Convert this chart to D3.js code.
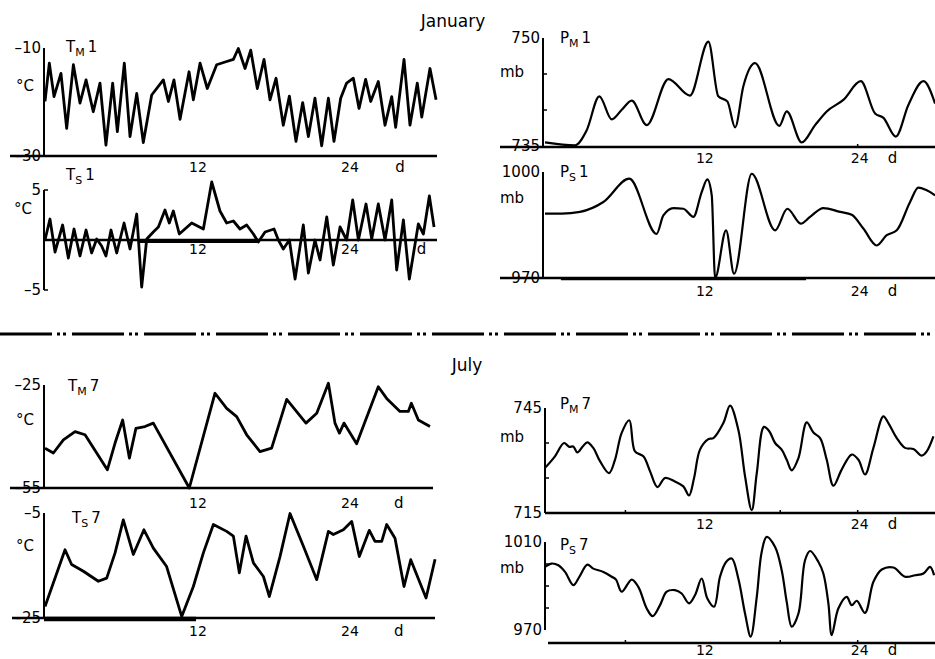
<!DOCTYPE html>
<html>
<head>
<meta charset="utf-8">
<script src="https://cdn.jsdelivr.net/npm/d3@7"></script>
<style>
    body { margin: 0; background: #fff; }
    svg { display: block; font-family: "DejaVu Sans", sans-serif; }
</style>
</head>
<body>
<div id="chart"></div>
<script>
// [day, value] pairs
const tempMeanJan = [[0.08,-19.9],[0.42,-12.8],[0.79,-19.0],[1.34,-14.7],[1.79,-24.9],[2.32,-13.1],[2.84,-20.2],[3.32,-15.9],[3.89,-21.8],[4.42,-16.5],[4.89,-28.0],[5.42,-16.5],[5.79,-25.5],[6.34,-12.8],[6.79,-26.4],[7.32,-18.4],[7.84,-27.5],[8.5,-18.7],[9.42,-15.9],[9.82,-19.9],[10.26,-15.9],[10.74,-23.2],[11.45,-14.4],[11.79,-19.6],[12.32,-12.8],[12.89,-17.5],[13.63,-13.1],[14.42,-12.5],[14.95,-12.1],[15.34,-10.1],[15.87,-13.8],[16.32,-10.4],[16.84,-17.5],[17.37,-12.1],[17.84,-19.6],[18.32,-15.6],[18.89,-24.3],[19.37,-18.9],[19.89,-27.3],[20.42,-20.1],[20.87,-26.4],[21.39,-19.3],[21.92,-28.1],[22.45,-19.3],[22.89,-27.3],[23.42,-19.3],[23.89,-16.5],[24.42,-15.6],[24.87,-21.2],[25.39,-15.8],[25.79,-19.9],[26.39,-16.2],[26.92,-24.3],[27.45,-19.0],[27.76,-24.7],[28.42,-12.1],[28.89,-24.3],[29.47,-16.5],[29.82,-22.8],[30.47,-13.8],[30.95,-19.6]];

const tempSurfJan = [[0.08,0],[0.47,2.1],[0.87,-1.2],[1.47,1.5],[1.92,-1.8],[2.37,1.1],[2.84,-1.6],[3.32,1.0],[3.76,-1.3],[4.16,0.1],[4.55,-0.6],[4.89,-1.6],[5.29,1.0],[5.74,-1.3],[6.32,1.7],[6.79,-0.9],[7.32,2.6],[7.71,-4.7],[8.11,0.1],[8.63,0.8],[9.03,1.3],[9.55,3.0],[9.89,1.7],[10.21,2.9],[10.68,0.6],[11.66,1.7],[12.58,1.1],[13.24,5.8],[13.89,2.9],[14.42,1.7],[14.95,1.9],[15.47,1.1],[16.0,1.5],[16.53,0.6],[16.92,-0.2],[17.45,0.8],[18.16,1.1],[18.5,0.0],[18.89,-0.9],[19.37,0.0],[19.82,-3.9],[20.47,1.5],[20.87,-3.3],[21.39,0.0],[21.79,-2.0],[22.32,2.3],[22.84,-2.5],[23.37,1.3],[23.89,0.0],[24.37,4.0],[24.82,0.0],[25.42,3.6],[25.87,0.1],[26.39,3.6],[26.92,0.0],[27.45,4.0],[27.84,-3.0],[28.37,2.0],[28.84,-3.9],[29.55,1.6],[29.95,0.6],[30.42,4.4],[30.79,1.3]];

const pressMeanJan = [[-0.23,735.5],[2.09,735.1],[3.0,737.2],[3.98,741.9],[4.94,738.7],[5.7,740.0],[6.49,741.3],[7.65,737.9],[9.33,744.3],[11.0,742.0],[12.43,749.5],[13.2,741.9],[13.9,741.2],[14.5,737.6],[15.14,743.3],[16.05,746.5],[17.93,737.8],[18.5,739.8],[19.66,735.5],[20.7,737.9],[21.6,739.8],[22.89,741.4],[24.24,744.0],[25.35,739.5],[26.0,738.9],[26.95,736.3],[27.93,740.7],[29.1,744.0],[30.0,740.9]];

const pressSurfJan = [[-0.23,988.2],[1.06,988.2],[2.48,988.7],[4.29,991.5],[6.3,998.1],[8.42,982.5],[8.94,987.7],[9.72,989.8],[10.49,989.6],[11.27,987.3],[11.91,994.3],[12.35,997.9],[12.69,993.4],[12.95,970.0],[13.8,983.5],[14.42,971.2],[15.79,999.5],[17.6,983.5],[18.55,989.6],[19.59,985.4],[20.31,987.3],[21.34,989.8],[22.64,988.7],[23.54,987.9],[24.44,984.0],[25.48,979.2],[26.25,982.1],[27.03,983.5],[28.06,991.5],[28.7,995.6],[29.35,994.8],[30.0,993.4]];

const tempMeanJul = [[0.08,-43.4],[0.74,-44.8],[1.53,-41.0],[2.45,-38.6],[3.24,-39.5],[4.16,-44.8],[5.0,-49.7],[5.61,-41.9],[6.21,-35.2],[6.74,-46.3],[7.26,-37.6],[7.97,-37.1],[8.63,-36.1],[11.47,-55.0],[13.5,-27.4],[14.42,-31.8],[15.21,-34.2],[16.0,-39.5],[17.05,-44.4],[17.97,-43.4],[19.16,-29.2],[20.68,-36.1],[21.53,-33.2],[22.45,-24.5],[22.97,-36.1],[23.32,-39.0],[23.68,-36.1],[24.1,-38.6],[24.68,-42.1],[26.39,-25.5],[27.05,-28.9],[28.1,-32.7],[28.76,-32.7],[29.0,-30.3],[29.55,-35.2],[30.47,-37.1]];

const tempSurfJul = [[0.08,-22.8],[1.66,-12.0],[2.18,-14.8],[3.11,-16.1],[4.29,-18.0],[4.95,-17.4],[5.61,-12.6],[6.26,-6.3],[7.05,-12.9],[7.89,-8.2],[8.63,-11.7],[9.68,-15.2],[10.87,-24.7],[11.79,-19.0],[12.58,-12.6],[13.37,-7.2],[14.42,-8.5],[14.95,-9.4],[15.42,-16.4],[15.95,-9.4],[16.53,-14.5],[17.32,-17.1],[17.79,-20.9],[18.63,-13.3],[19.42,-5.1],[20.47,-11.3],[21.53,-17.7],[22.45,-8.5],[22.84,-9.1],[23.63,-8.2],[24.29,-6.6],[24.89,-13.3],[25.68,-8.3],[26.13,-10.4],[26.66,-10.4],[27.05,-7.2],[27.71,-9.8],[28.42,-19.0],[28.95,-13.9],[30.16,-21.2],[30.87,-13.8]];

const pressMeanJul = [[-0.23,727.9],[0.54,731.2],[1.24,735.0],[1.65,733.9],[1.96,734.0],[2.27,732.3],[2.69,734.0],[3.05,735.2],[3.51,733.6],[4.03,729.8],[4.73,726.4],[5.19,730.2],[5.71,737.9],[6.3,741.5],[6.74,732.6],[7.39,731.2],[7.91,726.9],[8.48,722.4],[9.07,725.0],[9.84,724.0],[10.49,722.6],[10.93,720.0],[11.32,725.0],[11.78,733.1],[12.43,736.1],[12.82,736.4],[13.59,740.7],[14.11,745.7],[14.75,738.8],[15.27,725.5],[15.79,715.8],[16.18,726.4],[16.74,739.6],[17.16,738.3],[17.6,735.0],[18.11,733.1],[18.5,730.2],[18.89,727.2],[19.41,730.7],[20.05,740.9],[20.57,738.0],[21.09,736.4],[21.6,730.2],[22.12,722.8],[22.76,727.4],[23.54,731.7],[24.06,730.2],[24.57,726.0],[25.22,733.6],[25.99,742.6],[26.38,740.7],[27.03,736.4],[27.67,733.6],[28.32,733.3],[28.97,731.4],[29.35,732.6],[29.87,736.9]];

const pressSurfJul = [[-0.23,998.7],[0.28,1000.2],[0.8,999.4],[1.32,996.4],[1.96,990.4],[2.43,994.2],[3.05,999.7],[3.51,997.9],[4.29,996.4],[4.94,994.2],[5.27,992.9],[5.71,987.4],[6.49,992.9],[7.0,989.6],[7.65,979.8],[8.11,976.3],[8.68,981.3],[9.2,987.4],[9.84,988.1],[10.36,986.6],[10.93,982.1],[11.4,985.9],[11.91,993.4],[12.35,984.3],[12.87,980.6],[13.33,994.2],[13.8,1000.9],[14.24,1002.5],[14.75,993.4],[15.27,977.5],[15.71,967.0],[16.18,985.1],[16.56,1005.5],[16.95,1012.3],[17.6,1007.7],[18.11,997.2],[18.5,982.8],[18.89,971.5],[19.41,977.5],[19.92,1001.7],[20.31,1005.9],[20.96,1000.9],[21.34,995.7],[21.73,982.1],[21.99,967.7],[22.5,979.8],[23.15,985.1],[23.54,981.3],[23.93,983.3],[24.57,977.8],[25.22,991.9],[25.87,997.5],[26.77,998.4],[27.67,994.2],[28.45,994.9],[29.1,995.7],[29.61,998.7],[29.92,994.9]];

const dayTicks = [12, 24];
const monthTitles = ["January", "July"];

const width = 935, height = 659;
const svg = d3.select("#chart").append("svg")
    .attr("width", width)
    .attr("height", height);

let leftX = [44, 436.7];
let rightX = [548, 948];

function drawPanel(p) {
    let g = svg.append("g");
    let x = d3.scaleLinear().domain([0, 31]).range(p.xRange);
    let y = d3.scaleLinear().domain(p.yDomain).range(p.yRange);

    // y axis bracket
    g.append("line")
        .attr("x1", p.axisX).attr("x2", p.axisX)
        .attr("y1", y(p.yDomain[1])).attr("y2", y(p.yDomain[0]))
        .attr("stroke", "#000").attr("stroke-width", 2);
    g.selectAll(".ytick")
        .data(p.yTicks)
        .enter().append("line")
        .attr("x1", p.axisX).attr("x2", p.axisX + 4)
        .attr("y1", d => y(d)).attr("y2", d => y(d))
        .attr("stroke", "#000").attr("stroke-width", 1.5);

    // end labels on y axis
    g.selectAll(".ylab")
        .data(p.yDomain)
        .enter().append("text")
        .attr("x", p.axisX - 3)
        .attr("y", d => y(d) + 5)
        .attr("text-anchor", "end")
        .attr("font-size", 15)
        .text(d => d < 0 ? "\u2013" + Math.abs(d) : d);

    g.append("text")
        .attr("x", p.unitX).attr("y", p.unitY)
        .attr("font-size", 15)
        .text(p.unit);

    // x axis
    let baseY = p.baseValue !== undefined ? y(p.baseValue) : p.baseY;
    g.append("line")
        .attr("x1", p.baseX0).attr("x2", p.baseX1)
        .attr("y1", baseY).attr("y2", baseY)
        .attr("stroke", "#000").attr("stroke-width", 2.5);
    if (p.smear) {
        g.append("line")
            .attr("x1", x(p.smear[0])).attr("x2", x(p.smear[1]))
            .attr("y1", baseY + 1).attr("y2", baseY + 1)
            .attr("stroke", "#000").attr("stroke-width", p.smear[2]);
    }
    if (p.xTicks) {
        g.selectAll(".xtick")
            .data(p.xTicks)
            .enter().append("line")
            .attr("x1", d => x(d)).attr("x2", d => x(d))
            .attr("y1", baseY - 3).attr("y2", baseY + 1)
            .attr("stroke", "#000").attr("stroke-width", 1.5);
    }
    g.selectAll(".dlab")
        .data(dayTicks)
        .enter().append("text")
        .attr("x", d => x(d) + 2)
        .attr("y", p.dayLabelY)
        .attr("text-anchor", "middle")
        .attr("font-size", 14)
        .text(d => d);
    g.append("text")
        .attr("x", x(p.dDay)).attr("y", p.dayLabelY)
        .attr("text-anchor", "middle")
        .attr("font-size", 15)
        .text("d");

    // series
    let line = d3.line()
        .x(d => x(d[0]))
        .y(d => y(d[1]))
        .curve(p.curve);
    g.append("path")
        .datum(p.data)
        .attr("d", line)
        .attr("fill", "none")
        .attr("stroke", "#000")
        .attr("stroke-width", p.lineWidth)
        .attr("stroke-linejoin", "round");

    // panel name with subscript
    let t = g.append("text")
        .attr("x", p.nameX).attr("y", p.nameY)
        .attr("font-size", 15);
    t.append("tspan").text(p.name[0]);
    t.append("tspan").attr("dy", 4).attr("font-size", 11).text(p.name[1]);
    t.append("tspan").attr("dy", -4).attr("dx", 3).text(p.name[2]);
}

let smooth = d3.curveCatmullRom.alpha(0.5);

drawPanel({data: tempMeanJan, xRange: leftX, yDomain: [-30, -10], yRange: [156, 48], axisX: 44,
    yTicks: [], unit: "\u00b0C", unitX: 16, unitY: 91, baseY: 156, baseX0: 10, baseX1: 437,
    dayLabelY: 172, dDay: 28.1, curve: d3.curveLinear, lineWidth: 2.8,
    name: ["T", "M", "1"], nameX: 66, nameY: 52});

drawPanel({data: tempSurfJan, xRange: leftX, yDomain: [-5, 5], yRange: [290, 190], axisX: 44,
    yTicks: [-5, 5], unit: "\u00b0C", unitX: 14, unitY: 214, baseValue: 0, baseX0: 44, baseX1: 437,
    smear: [7.5, 16.9, 4], dayLabelY: 254, dDay: 29.8, curve: d3.curveLinear, lineWidth: 2.8,
    name: ["T", "S", "1"], nameX: 66, nameY: 180});

drawPanel({data: pressMeanJan, xRange: rightX, yDomain: [735, 750], yRange: [146, 38], axisX: 543,
    yTicks: [740, 745], unit: "mb", unitX: 500, unitY: 77, baseY: 147, baseX0: 500, baseX1: 935,
    xTicks: [24], dayLabelY: 163, dDay: 26.7, curve: d3.curveMonotoneX, lineWidth: 2.2,
    name: ["P", "M", "1"], nameX: 560, nameY: 43});

drawPanel({data: pressSurfJan, xRange: rightX, yDomain: [970, 1000], yRange: [278, 172], axisX: 543,
    yTicks: [], unit: "mb", unitX: 500, unitY: 203, baseY: 278, baseX0: 500, baseX1: 935,
    smear: [1, 20, 2.5], dayLabelY: 296, dDay: 26.7, curve: d3.curveMonotoneX, lineWidth: 2.2,
    name: ["P", "S", "1"], nameX: 560, nameY: 177});

drawPanel({data: tempMeanJul, xRange: leftX, yDomain: [-55, -25], yRange: [488, 385], axisX: 44,
    yTicks: [], unit: "\u00b0C", unitX: 16, unitY: 425, baseY: 488, baseX0: 10, baseX1: 433,
    dayLabelY: 508, dDay: 28, curve: d3.curveLinear, lineWidth: 2.8,
    name: ["T", "M", "7"], nameX: 68, nameY: 391});

drawPanel({data: tempSurfJul, xRange: leftX, yDomain: [-25, -5], yRange: [618, 513], axisX: 44,
    yTicks: [], unit: "\u00b0C", unitX: 16, unitY: 551, baseY: 618, baseX0: 12, baseX1: 435,
    smear: [0, 12, 4.5], dayLabelY: 636, dDay: 28, curve: d3.curveLinear, lineWidth: 2.8,
    name: ["T", "S", "7"], nameX: 72, nameY: 523});

drawPanel({data: pressMeanJul, xRange: rightX, yDomain: [715, 745], yRange: [513, 408], axisX: 545,
    yTicks: [725, 735], unit: "mb", unitX: 500, unitY: 442, baseY: 513, baseX0: 545, baseX1: 935,
    xTicks: [6, 18, 24], dayLabelY: 529, dDay: 26.7, curve: smooth, lineWidth: 2.2,
    name: ["P", "M", "7"], nameX: 560, nameY: 409});

drawPanel({data: pressSurfJul, xRange: rightX, yDomain: [970, 1010], yRange: [630, 542], axisX: 545,
    yTicks: [980, 990, 1000], unit: "mb", unitX: 500, unitY: 573, baseY: 643, baseX0: 548, baseX1: 935,
    xTicks: [6, 18, 24], dayLabelY: 655, dDay: 26.7, curve: smooth, lineWidth: 2.2,
    name: ["P", "S", "7"], nameX: 560, nameY: 550});

// month titles and separator
svg.append("text").attr("x", 453).attr("y", 27)
    .attr("text-anchor", "middle").attr("font-size", 17).text(monthTitles[0]);
svg.append("text").attr("x", 467).attr("y", 371)
    .attr("text-anchor", "middle").attr("font-size", 17).text(monthTitles[1]);
svg.append("line")
    .attr("x1", 0).attr("x2", width)
    .attr("y1", 334).attr("y2", 334)
    .attr("stroke", "#000").attr("stroke-width", 3)
    .attr("stroke-dasharray", "52,5,3,3,3,6");
</script>
</body>
</html>
